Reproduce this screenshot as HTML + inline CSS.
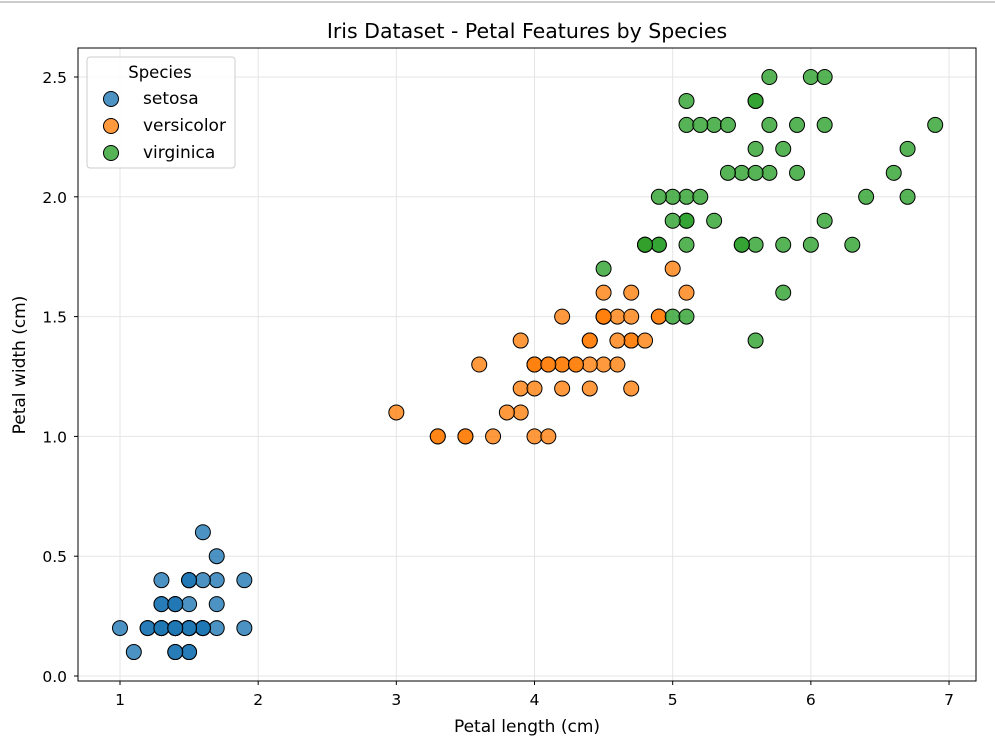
<!DOCTYPE html>
<html><head><meta charset="utf-8"><style>
body{margin:0;background:#fff;font-family:"Liberation Sans","DejaVu Sans",sans-serif;}
svg{display:block}
</style></head><body>
<svg id="chart" width="995" height="749" font-family="DejaVu Sans, Liberation Sans, sans-serif">
<line x1="0" y1="2" x2="995" y2="2" stroke="#ccc" stroke-width="2"/>
<text x="527" y="38" text-anchor="middle" font-size="20.5">Iris Dataset - Petal Features by Species</text>
<g id="grid"></g>
<g id="ticks"></g>
<g id="points"></g>
<rect x="78" y="48" width="898" height="633" fill="none" stroke="#000" stroke-width="1"/>
<text x="527" y="732" text-anchor="middle" font-size="17">Petal length (cm)</text>
<text transform="translate(25,365) rotate(-90)" text-anchor="middle" font-size="17">Petal width (cm)</text>
<g>
<rect x="87" y="57" width="148" height="111" rx="3" fill="#fff" fill-opacity="0.85" stroke="#ccc"/>
<text x="160" y="78" text-anchor="middle" font-size="16.5">Species</text>
<g><circle cx="111" cy="99" r="7.5" fill="#1f77b4" fill-opacity="0.8" stroke="#000"/><text x="143" y="104" font-size="17">setosa</text></g>
<g><circle cx="111" cy="126" r="7.5" fill="#ff7f0e" fill-opacity="0.8" stroke="#000"/><text x="143" y="131" font-size="17">versicolor</text></g>
<g><circle cx="111" cy="153" r="7.5" fill="#2ca02c" fill-opacity="0.8" stroke="#000"/><text x="143" y="158" font-size="17">virginica</text></g>
</g>
</svg>
<script>
const xTicks=[1,2,3,4,5,6,7];
const yTicks=[0.0,0.5,1.0,1.5,2.0,2.5];
const setosaLength=[1.4,1.4,1.3,1.5,1.4,1.7,1.4,1.5,1.4,1.5,1.5,1.6,1.4,1.1,1.2,1.5,1.3,1.4,1.7,1.5,1.7,1.5,1.0,1.7,1.9,1.6,1.6,1.5,1.4,1.6,1.6,1.5,1.5,1.4,1.5,1.2,1.3,1.4,1.3,1.5,1.3,1.3,1.3,1.6,1.9,1.4,1.6,1.4,1.5,1.4];
const setosaWidth=[0.2,0.2,0.2,0.2,0.2,0.4,0.3,0.2,0.2,0.1,0.2,0.2,0.1,0.1,0.2,0.4,0.4,0.3,0.3,0.3,0.2,0.4,0.2,0.5,0.2,0.2,0.4,0.2,0.2,0.2,0.2,0.4,0.1,0.2,0.2,0.2,0.2,0.1,0.2,0.2,0.3,0.3,0.2,0.6,0.4,0.3,0.2,0.2,0.2,0.2];
const versicolorLength=[4.7,4.5,4.9,4.0,4.6,4.5,4.7,3.3,4.6,3.9,3.5,4.2,4.0,4.7,3.6,4.4,4.5,4.1,4.5,3.9,4.8,4.0,4.9,4.7,4.3,4.4,4.8,5.0,4.5,3.5,3.8,3.7,3.9,5.1,4.5,4.5,4.7,4.4,4.1,4.0,4.4,4.6,4.0,3.3,4.2,4.2,4.2,4.3,3.0,4.1];
const versicolorWidth=[1.4,1.5,1.5,1.3,1.5,1.3,1.6,1.0,1.3,1.4,1.0,1.5,1.0,1.4,1.3,1.4,1.5,1.0,1.5,1.1,1.8,1.3,1.5,1.2,1.3,1.4,1.4,1.7,1.5,1.0,1.1,1.0,1.2,1.6,1.5,1.6,1.5,1.3,1.3,1.3,1.2,1.4,1.2,1.0,1.3,1.2,1.3,1.3,1.1,1.3];
const virginicaLength=[6.0,5.1,5.9,5.6,5.8,6.6,4.5,6.3,5.8,6.1,5.1,5.3,5.5,5.0,5.1,5.3,5.5,6.7,6.9,5.0,5.7,4.9,6.7,4.9,5.7,6.0,4.8,4.9,5.6,5.8,6.1,6.4,5.6,5.1,5.6,6.1,5.6,5.5,4.8,5.4,5.6,5.1,5.1,5.9,5.7,5.2,5.0,5.2,5.4,5.1];
const virginicaWidth=[2.5,1.9,2.1,1.8,2.2,2.1,1.7,1.8,1.8,2.5,2.0,1.9,2.1,2.0,2.4,2.3,1.8,2.2,2.3,1.5,2.3,2.0,2.0,1.8,2.1,1.8,1.8,1.8,2.1,1.6,1.9,2.0,2.2,1.5,1.4,2.3,2.4,1.8,1.8,2.1,2.4,2.3,1.9,2.3,2.5,2.3,1.9,2.0,2.3,1.8];
const NS="http://www.w3.org/2000/svg";
const X=v=>120+(v-1)*138.17;
const Y=v=>676-v*239.6;
const grid=document.getElementById('grid'),ticks=document.getElementById('ticks'),pts=document.getElementById('points');
function mk(tag,attrs,parent){const e=document.createElementNS(NS,tag);for(const k in attrs)e.setAttribute(k,attrs[k]);parent.appendChild(e);return e;}
xTicks.forEach(t=>{
  const g=mk('line',{x1:X(t),x2:X(t),y1:48,y2:681,stroke:'#e5e5e5'},grid);
  
  
  mk('line',{x1:X(t),x2:X(t),y1:681,y2:685,stroke:'#000'},ticks);
  const l=mk('text',{x:X(t),y:705,'text-anchor':'middle','font-size':15.5},ticks);
  l.textContent=String(t);
  
  
});
yTicks.forEach(t=>{
  const g=mk('line',{x1:78,x2:976,y1:Y(t),y2:Y(t),stroke:'#e5e5e5'},grid);
  
  
  mk('line',{x1:74,x2:78,y1:Y(t),y2:Y(t),stroke:'#000'},ticks);
  const l=mk('text',{x:67,y:Y(t)+6,'text-anchor':'end','font-size':15.5},ticks);
  l.textContent=t.toFixed(1);
  
  
});
function series(xs,ys,color,name){
  xs.forEach((v,i)=>{
    const c=mk('circle',{cx:X(v),cy:Y(ys[i]),r:7.5,fill:color,'fill-opacity':0.8,stroke:'#000','stroke-width':1},pts);
    
    
  });
}
series(setosaLength,setosaWidth,'#1f77b4','setosa');
series(versicolorLength,versicolorWidth,'#ff7f0e','versicolor');
series(virginicaLength,virginicaWidth,'#2ca02c','virginica');
</script>
</body></html>
